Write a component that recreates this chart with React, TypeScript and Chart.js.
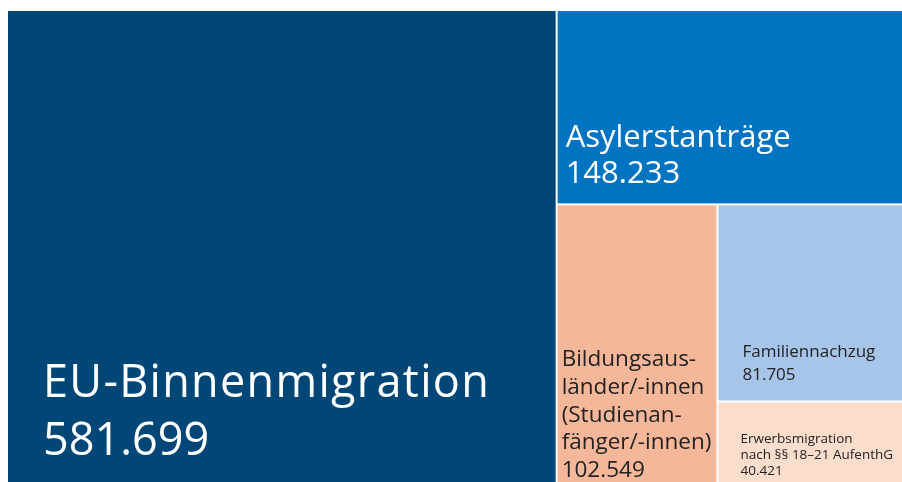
import React, { useEffect, useRef } from "react";
import { Chart, registerables } from "chart.js";

Chart.register(...registerables);

// ---- data ----
const categories = [
  "EU-Binnenmigration",
  "Asylerstanträge",
  "Bildungsausländer/-innen (Studienanfänger/-innen)",
  "Familiennachzug",
  "Erwerbsmigration nach §§ 18–21 AufenthG",
];
const values = [581699, 148233, 102549, 81705, 40421];
const valueLabels = ["581.699", "148.233", "102.549", "81.705", "40.421"];
const labelLines = [
  ["EU-Binnenmigration"],
  ["Asylerstanträge"],
  ["Bildungsaus-", "länder/-innen", "(Studienan-", "fänger/-innen)"],
  ["Familiennachzug"],
  ["Erwerbsmigration", "nach §§ 18–21 AufenthG"],
];
const colors = ["#004677", "#0073C1", "#F5B799", "#A6C5E8", "#FADDCB"];
const textColors = ["#FFFFFF", "#FFFFFF", "#222222", "#222222", "#222222"];

// ---- label styles ----
const fontSizes = [45, 31, 22.5, 17, 13.5];
const lineHeights = [58, 36, 27.75, 23, 16];
const padLeft = [35, 8, 4, 24, 22];
const padBottom = [43, 20, 21, 20, 23];
const nameSpacing = [1.3, 0, 0, 0, 0];

const FONT = "'Open Sans', 'Noto Sans', sans-serif";

type Cell = { x0: number; y0: number; x1: number; y1: number; i: number };

// Alternating slice-and-dice treemap in data units (0..1)
function layout(vals: number[]): Cell[] {
  const cells: Cell[] = [];
  let x0 = 0, y0 = 0, x1 = 1, y1 = 1;
  let horizontal = true;
  for (let i = 0; i < vals.length; i++) {
    const rest = vals.slice(i).reduce((a, b) => a + b, 0);
    if (i === vals.length - 1) {
      cells.push({ x0, y0, x1, y1, i });
      break;
    }
    const f = vals[i] / rest;
    if (horizontal) {
      const xs = x0 + (x1 - x0) * f;
      cells.push({ x0, y0, x1: xs, y1, i });
      x0 = xs;
    } else {
      const ys = y0 + (y1 - y0) * f;
      cells.push({ x0, y0, x1, y1: ys, i });
      y0 = ys;
    }
    horizontal = !horizontal;
  }
  return cells;
}

const treemapPlugin = {
  id: "treemapCells",
  afterDatasetsDraw(chart: any) {
    const ctx = chart.ctx as CanvasRenderingContext2D;
    const xs = chart.scales.x;
    const ys = chart.scales.y;
    const cells = layout(values);
    ctx.save();
    for (const c of cells) {
      const px0 = xs.getPixelForValue(c.x0);
      const px1 = xs.getPixelForValue(c.x1);
      const py0 = ys.getPixelForValue(c.y0);
      const py1 = ys.getPixelForValue(c.y1);
      const left = Math.min(px0, px1) + 1;
      const right = Math.max(px0, px1) - 1;
      const top = Math.min(py0, py1) + 1;
      const bottom = Math.max(py0, py1) - 1;
      ctx.fillStyle = colors[c.i];
      ctx.fillRect(left, top, right - left, bottom - top);
    }
    for (const c of cells) {
      const px0 = xs.getPixelForValue(c.x0);
      const py0 = ys.getPixelForValue(c.y0);
      const py1 = ys.getPixelForValue(c.y1);
      const left = Math.min(px0, xs.getPixelForValue(c.x1)) + 1;
      const bottom = Math.max(py0, py1) - 1;
      const lines = [...labelLines[c.i], valueLabels[c.i]];
      ctx.fillStyle = textColors[c.i];
      ctx.font = `${fontSizes[c.i]}px ${FONT}`;
      ctx.textAlign = "left";
      ctx.textBaseline = "alphabetic";
      const n = lines.length;
      lines.forEach((ln, k) => {
        const y = bottom - padBottom[c.i] - (n - 1 - k) * lineHeights[c.i];
        (ctx as any).letterSpacing = k < n - 1 ? `${nameSpacing[c.i]}px` : "0px";
        ctx.fillText(ln, left + padLeft[c.i], y);
      });
      (ctx as any).letterSpacing = "0px";
    }
    ctx.restore();
  },
};

export default function App() {
  const ref = useRef<HTMLCanvasElement | null>(null);
  useEffect(() => {
    if (!ref.current) return;
    const cells = layout(values);
    const chart = new Chart(ref.current, {
      type: "scatter",
      data: {
        datasets: [
          {
            label: "Zuwanderung",
            data: cells.map((c) => ({ x: (c.x0 + c.x1) / 2, y: (c.y0 + c.y1) / 2 })),
            pointRadius: 0,
            pointHoverRadius: 0,
          },
        ],
      },
      options: {
        animation: false,
        responsive: false,
        maintainAspectRatio: false,
        devicePixelRatio: 1,
        layout: { padding: 0 },
        plugins: {
          legend: { display: false },
          tooltip: { enabled: false },
          title: { display: false },
        },
        scales: {
          x: { type: "linear", min: 0, max: 1, display: false },
          y: { type: "linear", min: 0, max: 1, reverse: true, display: false },
        },
      },
      plugins: [treemapPlugin],
    });
    return () => chart.destroy();
  }, []);
  return (
    <div
      style={{
        position: "fixed",
        left: 0,
        top: 0,
        width: 902,
        height: 482,
        overflow: "hidden",
        background: "#FFFFFF",
      }}
    >
      <canvas
        ref={ref}
        width={902}
        height={489}
        style={{ position: "absolute", left: 7, top: 10, display: "block" }}
        aria-label={categories.join(", ")}
      />
    </div>
  );
}
